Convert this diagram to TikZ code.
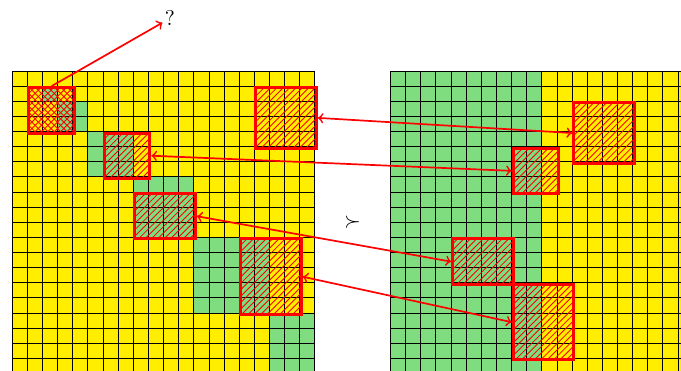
\documentclass[tikz,border=0pt]{standalone}
\usetikzlibrary{patterns}
\definecolor{cellyellow}{RGB}{255,238,0}
\definecolor{cellgreen}{RGB}{127,221,127}
\begin{document}
\begin{tikzpicture}[x=0.25cm,y=0.25cm,
  hatchbox/.style={draw=red, line width=1.4pt, inner sep=0pt, anchor=north west,
    pattern=north east lines, pattern color=red},
  crossbox/.style={hatchbox, postaction={pattern=north west lines, pattern color=red}},
  sz/.style 2 args={minimum width=#1*0.25cm, minimum height=#2*0.25cm},
  link/.style={draw=red, thick, <->},
  gridline/.style={black, line width=0.45pt},
]
\useasboundingbox (-0.813,4.693) rectangle (44.197,-19.828);
\clip (-0.813,4.693) rectangle (44.197,-19.828);
% left grid
\fill[cellyellow] (0,0) rectangle (20,-20);
\fill[cellgreen] (2,-1) rectangle (3,-2);
\fill[cellgreen] (3,-2) rectangle (5,-4);
\fill[cellgreen] (5,-4) rectangle (8,-7);
\fill[cellgreen] (8,-7) rectangle (12,-11);
\fill[cellgreen] (12,-11) rectangle (17,-16);
\fill[cellgreen] (17,-16) rectangle (20,-20);
\draw[gridline, step=0.25cm] (0,0) grid (20,-20);
% right grid
\fill[cellgreen] (25,0) rectangle (35,-20);
\fill[cellyellow] (35,0) rectangle (45,-20);
\draw[gridline, step=0.25cm] (25,0) grid (45,-20);
% boxes left
\node[crossbox, sz={3}{3}] (L1) at (1,-1) {};
\node[hatchbox, sz={4}{4}] (Ltr) at (16,-1) {};
\node[hatchbox, sz={3}{3}] (L2) at (6,-4) {};
\node[hatchbox, sz={4}{3}] (L3) at (8,-8) {};
\node[hatchbox, sz={4}{5}] (L4) at (15,-11) {};
% boxes right
\node[hatchbox, sz={4}{4}] (R1) at (37,-2) {};
\node[hatchbox, sz={3}{3}] (R2) at (33,-5) {};
\node[hatchbox, sz={4}{3}] (R3) at (29,-11) {};
\node[hatchbox, sz={4}{5}] (R4) at (33,-14) {};
% labels
\node[inner sep=1pt] (q) at (10.42,3.48) {?};
\node (succ) at (22.5,-10) {$\succ$};
% connectors
\draw[red, thick, ->] (L1.north) -- (q);
\draw[link] (Ltr.east) -- (R1.west);
\draw[link] (L2.east) -- (R2.west);
\draw[link] (L3.east) -- (R3.west);
\draw[link] (L4.east) -- (R4.west);
\end{tikzpicture}
\end{document}
